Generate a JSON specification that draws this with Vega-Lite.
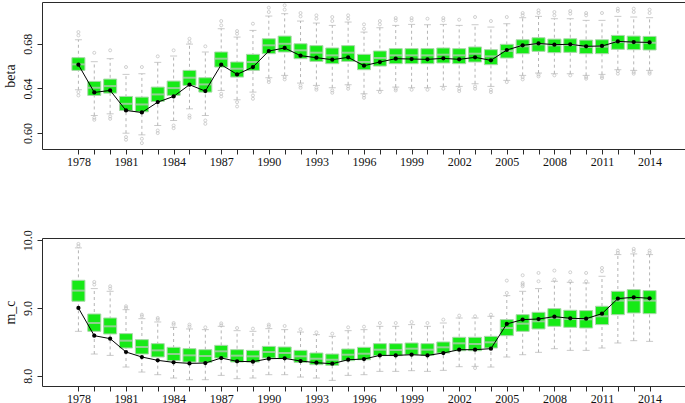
{
  "$schema": "https://vega.github.io/schema/vega-lite/v6.json",
  "padding": {"left": 2, "top": 1, "right": 0, "bottom": 0},
  "background": "white",
  "spacing": 89,
  "bounds": "flush",
  "datasets": {
    "beta": [
      {"year":1978,"lo":0.6388,"q1":0.6562,"med":0.6616,"q3":0.6676,"hi":0.6837,"est":0.6613},
      {"year":1979,"lo":0.6157,"q1":0.6337,"med":0.6406,"q3":0.6463,"hi":0.664,"est":0.6364},
      {"year":1980,"lo":0.6172,"q1":0.6358,"med":0.6421,"q3":0.6484,"hi":0.6667,"est":0.6382},
      {"year":1981,"lo":0.5998,"q1":0.6202,"med":0.6262,"q3":0.6328,"hi":0.6526,"est":0.6202},
      {"year":1982,"lo":0.5983,"q1":0.619,"med":0.6256,"q3":0.6322,"hi":0.6532,"est":0.6184},
      {"year":1983,"lo":0.6067,"q1":0.6283,"med":0.6346,"q3":0.6412,"hi":0.6634,"est":0.6277},
      {"year":1984,"lo":0.6112,"q1":0.6337,"med":0.6403,"q3":0.6466,"hi":0.6691,"est":0.6328},
      {"year":1985,"lo":0.6217,"q1":0.6427,"med":0.6496,"q3":0.6562,"hi":0.6798,"est":0.6433},
      {"year":1986,"lo":0.6157,"q1":0.6367,"med":0.6436,"q3":0.6496,"hi":0.6727,"est":0.6376},
      {"year":1987,"lo":0.6382,"q1":0.6592,"med":0.6667,"q3":0.6727,"hi":0.6936,"est":0.6613},
      {"year":1988,"lo":0.6298,"q1":0.6502,"med":0.6577,"q3":0.6637,"hi":0.6861,"est":0.6526},
      {"year":1989,"lo":0.6367,"q1":0.6562,"med":0.6637,"q3":0.6706,"hi":0.6921,"est":0.6592},
      {"year":1990,"lo":0.6496,"q1":0.6712,"med":0.6787,"q3":0.6846,"hi":0.705,"est":0.6736},
      {"year":1991,"lo":0.6517,"q1":0.6727,"med":0.6801,"q3":0.687,"hi":0.7071,"est":0.6763},
      {"year":1992,"lo":0.6448,"q1":0.6667,"med":0.6742,"q3":0.6801,"hi":0.7005,"est":0.6694},
      {"year":1993,"lo":0.6427,"q1":0.6643,"med":0.6721,"q3":0.6784,"hi":0.6987,"est":0.6676},
      {"year":1994,"lo":0.6406,"q1":0.6622,"med":0.6697,"q3":0.6763,"hi":0.6966,"est":0.6658},
      {"year":1995,"lo":0.6433,"q1":0.6643,"med":0.6721,"q3":0.6784,"hi":0.6996,"est":0.6679},
      {"year":1996,"lo":0.6352,"q1":0.6568,"med":0.6637,"q3":0.6706,"hi":0.6906,"est":0.6604},
      {"year":1997,"lo":0.6382,"q1":0.6601,"med":0.6673,"q3":0.6736,"hi":0.6945,"est":0.6637},
      {"year":1998,"lo":0.6412,"q1":0.6622,"med":0.6697,"q3":0.6757,"hi":0.6966,"est":0.6667},
      {"year":1999,"lo":0.6406,"q1":0.6622,"med":0.6697,"q3":0.6757,"hi":0.6975,"est":0.6664},
      {"year":2000,"lo":0.6406,"q1":0.6622,"med":0.6697,"q3":0.6757,"hi":0.6972,"est":0.6661},
      {"year":2001,"lo":0.6418,"q1":0.6628,"med":0.6703,"q3":0.6763,"hi":0.6975,"est":0.667},
      {"year":2002,"lo":0.6418,"q1":0.6622,"med":0.6697,"q3":0.6757,"hi":0.6966,"est":0.6661},
      {"year":2003,"lo":0.6442,"q1":0.6637,"med":0.6712,"q3":0.6772,"hi":0.6972,"est":0.6679},
      {"year":2004,"lo":0.6418,"q1":0.6613,"med":0.6688,"q3":0.6748,"hi":0.6951,"est":0.6652},
      {"year":2005,"lo":0.6472,"q1":0.6673,"med":0.6736,"q3":0.6796,"hi":0.6981,"est":0.6745},
      {"year":2006,"lo":0.6517,"q1":0.6712,"med":0.6778,"q3":0.6837,"hi":0.7035,"est":0.6787},
      {"year":2007,"lo":0.6538,"q1":0.6733,"med":0.6796,"q3":0.6855,"hi":0.7047,"est":0.6804},
      {"year":2008,"lo":0.6532,"q1":0.6721,"med":0.6787,"q3":0.6843,"hi":0.7026,"est":0.6793},
      {"year":2009,"lo":0.6532,"q1":0.6724,"med":0.679,"q3":0.6846,"hi":0.7026,"est":0.6796},
      {"year":2010,"lo":0.6517,"q1":0.6712,"med":0.6772,"q3":0.6834,"hi":0.7011,"est":0.6778},
      {"year":2011,"lo":0.6526,"q1":0.6712,"med":0.6775,"q3":0.6837,"hi":0.7011,"est":0.6781},
      {"year":2012,"lo":0.6568,"q1":0.6751,"med":0.6816,"q3":0.6876,"hi":0.7047,"est":0.6822},
      {"year":2013,"lo":0.6562,"q1":0.6748,"med":0.681,"q3":0.687,"hi":0.7041,"est":0.6816},
      {"year":2014,"lo":0.6562,"q1":0.6745,"med":0.681,"q3":0.6867,"hi":0.7035,"est":0.6813}
    ],
    "mc": [
      {"year":1978,"lo":8.655,"q1":9.099,"med":9.256,"q3":9.409,"hi":9.887,"est":9.0},
      {"year":1979,"lo":8.32,"q1":8.655,"med":8.778,"q3":8.911,"hi":9.286,"est":8.591},
      {"year":1980,"lo":8.3,"q1":8.616,"med":8.729,"q3":8.852,"hi":9.246,"est":8.547},
      {"year":1981,"lo":8.128,"q1":8.409,"med":8.517,"q3":8.621,"hi":8.975,"est":8.35},
      {"year":1982,"lo":8.054,"q1":8.32,"med":8.424,"q3":8.532,"hi":8.842,"est":8.276},
      {"year":1983,"lo":8.015,"q1":8.276,"med":8.374,"q3":8.473,"hi":8.793,"est":8.227},
      {"year":1984,"lo":7.966,"q1":8.222,"med":8.32,"q3":8.419,"hi":8.714,"est":8.197},
      {"year":1985,"lo":7.941,"q1":8.202,"med":8.3,"q3":8.399,"hi":8.69,"est":8.182},
      {"year":1986,"lo":7.941,"q1":8.197,"med":8.291,"q3":8.384,"hi":8.68,"est":8.187},
      {"year":1987,"lo":8.005,"q1":8.261,"med":8.36,"q3":8.448,"hi":8.729,"est":8.261},
      {"year":1988,"lo":7.956,"q1":8.202,"med":8.296,"q3":8.384,"hi":8.665,"est":8.212},
      {"year":1989,"lo":7.966,"q1":8.202,"med":8.286,"q3":8.374,"hi":8.655,"est":8.207},
      {"year":1990,"lo":8.015,"q1":8.261,"med":8.35,"q3":8.433,"hi":8.695,"est":8.251},
      {"year":1991,"lo":8.015,"q1":8.251,"med":8.335,"q3":8.424,"hi":8.68,"est":8.256},
      {"year":1992,"lo":7.98,"q1":8.197,"med":8.286,"q3":8.374,"hi":8.645,"est":8.217},
      {"year":1993,"lo":7.966,"q1":8.163,"med":8.251,"q3":8.335,"hi":8.606,"est":8.192},
      {"year":1994,"lo":7.931,"q1":8.153,"med":8.236,"q3":8.32,"hi":8.581,"est":8.177},
      {"year":1995,"lo":8.005,"q1":8.222,"med":8.31,"q3":8.394,"hi":8.665,"est":8.236},
      {"year":1996,"lo":8.015,"q1":8.236,"med":8.325,"q3":8.419,"hi":8.68,"est":8.246},
      {"year":1997,"lo":8.064,"q1":8.296,"med":8.384,"q3":8.473,"hi":8.729,"est":8.3},
      {"year":1998,"lo":8.064,"q1":8.296,"med":8.379,"q3":8.473,"hi":8.729,"est":8.3},
      {"year":1999,"lo":8.074,"q1":8.31,"med":8.399,"q3":8.483,"hi":8.754,"est":8.31},
      {"year":2000,"lo":8.064,"q1":8.3,"med":8.384,"q3":8.473,"hi":8.729,"est":8.3},
      {"year":2001,"lo":8.079,"q1":8.335,"med":8.419,"q3":8.498,"hi":8.778,"est":8.335},
      {"year":2002,"lo":8.133,"q1":8.369,"med":8.478,"q3":8.567,"hi":8.852,"est":8.384},
      {"year":2003,"lo":8.138,"q1":8.369,"med":8.468,"q3":8.567,"hi":8.852,"est":8.384},
      {"year":2004,"lo":8.128,"q1":8.409,"med":8.493,"q3":8.581,"hi":8.877,"est":8.399},
      {"year":2005,"lo":8.276,"q1":8.591,"med":8.704,"q3":8.828,"hi":9.182,"est":8.764},
      {"year":2006,"lo":8.31,"q1":8.655,"med":8.768,"q3":8.901,"hi":9.246,"est":8.828},
      {"year":2007,"lo":8.345,"q1":8.69,"med":8.803,"q3":8.936,"hi":9.286,"est":8.837},
      {"year":2008,"lo":8.399,"q1":8.729,"med":8.852,"q3":8.99,"hi":9.394,"est":8.872},
      {"year":2009,"lo":8.374,"q1":8.714,"med":8.837,"q3":8.966,"hi":9.379,"est":8.847},
      {"year":2010,"lo":8.374,"q1":8.704,"med":8.833,"q3":8.961,"hi":9.369,"est":8.842},
      {"year":2011,"lo":8.409,"q1":8.754,"med":8.877,"q3":9.025,"hi":9.468,"est":8.916},
      {"year":2012,"lo":8.483,"q1":8.901,"med":9.108,"q3":9.246,"hi":9.788,"est":9.138},
      {"year":2013,"lo":8.517,"q1":8.926,"med":9.113,"q3":9.271,"hi":9.798,"est":9.158},
      {"year":2014,"lo":8.507,"q1":8.916,"med":9.108,"q3":9.256,"hi":9.788,"est":9.143}
    ],
    "beta_out": [
      {"year":1978,"v":0.6906},{"year":1978,"v":0.6876},{"year":1978,"v":0.6367},{"year":1978,"v":0.6337},
      {"year":1979,"v":0.672},{"year":1979,"v":0.6136},{"year":1979,"v":0.6118},
      {"year":1980,"v":0.6742},{"year":1980,"v":0.6148},{"year":1980,"v":0.6127},
      {"year":1981,"v":0.6592},{"year":1981,"v":0.5963},{"year":1981,"v":0.5939},
      {"year":1982,"v":0.6592},{"year":1982,"v":0.5948},{"year":1982,"v":0.5909},
      {"year":1983,"v":0.6688},{"year":1983,"v":0.6022},{"year":1983,"v":0.5999},
      {"year":1984,"v":0.6742},{"year":1984,"v":0.6067},{"year":1984,"v":0.6043},
      {"year":1985,"v":0.6846},{"year":1985,"v":0.6816},{"year":1985,"v":0.6157},{"year":1985,"v":0.6136},
      {"year":1986,"v":0.6778},{"year":1986,"v":0.6112},{"year":1986,"v":0.6082},
      {"year":1987,"v":0.7005},{"year":1987,"v":0.6966},{"year":1987,"v":0.6352},{"year":1987,"v":0.6328},
      {"year":1988,"v":0.6915},{"year":1988,"v":0.6891},{"year":1988,"v":0.6277},{"year":1988,"v":0.6238},
      {"year":1989,"v":0.6981},{"year":1989,"v":0.6337},{"year":1989,"v":0.6307},
      {"year":1990,"v":0.7125},{"year":1990,"v":0.7086},{"year":1990,"v":0.6478},{"year":1990,"v":0.6457},
      {"year":1991,"v":0.7146},{"year":1991,"v":0.7107},{"year":1991,"v":0.6502},{"year":1991,"v":0.6481},
      {"year":1992,"v":0.7077},{"year":1992,"v":0.7047},{"year":1992,"v":0.6427},{"year":1992,"v":0.6406},
      {"year":1993,"v":0.7056},{"year":1993,"v":0.7026},{"year":1993,"v":0.6406},{"year":1993,"v":0.6388},
      {"year":1994,"v":0.7041},{"year":1994,"v":0.7005},{"year":1994,"v":0.6382},{"year":1994,"v":0.6361},
      {"year":1995,"v":0.7056},{"year":1995,"v":0.7026},{"year":1995,"v":0.6418},{"year":1995,"v":0.6397},
      {"year":1996,"v":0.6975},{"year":1996,"v":0.6936},{"year":1996,"v":0.6337},{"year":1996,"v":0.6316},
      {"year":1997,"v":0.7005},{"year":1997,"v":0.6975},{"year":1997,"v":0.6367},
      {"year":1998,"v":0.7032},{"year":1998,"v":0.7011},{"year":1998,"v":0.6397},{"year":1998,"v":0.6382},
      {"year":1999,"v":0.7032},{"year":1999,"v":0.7011},{"year":1999,"v":0.6388},
      {"year":2000,"v":0.7026},{"year":2000,"v":0.6388},
      {"year":2001,"v":0.7032},{"year":2001,"v":0.7011},{"year":2001,"v":0.6397},
      {"year":2002,"v":0.7017},{"year":2002,"v":0.6397},{"year":2002,"v":0.6376},
      {"year":2003,"v":0.7041},{"year":2003,"v":0.6418},{"year":2003,"v":0.6397},
      {"year":2004,"v":0.7005},{"year":2004,"v":0.6388},{"year":2004,"v":0.6367},
      {"year":2005,"v":0.7041},{"year":2005,"v":0.6457},
      {"year":2006,"v":0.7077},{"year":2006,"v":0.7056},{"year":2006,"v":0.6502},{"year":2006,"v":0.6481},
      {"year":2007,"v":0.7101},{"year":2007,"v":0.7077},{"year":2007,"v":0.6526},{"year":2007,"v":0.6508},
      {"year":2008,"v":0.7086},{"year":2008,"v":0.7056},{"year":2008,"v":0.6517},
      {"year":2009,"v":0.7095},{"year":2009,"v":0.7071},{"year":2009,"v":0.6517},
      {"year":2010,"v":0.7077},{"year":2010,"v":0.7056},{"year":2010,"v":0.6502},{"year":2010,"v":0.6487},
      {"year":2011,"v":0.7077},{"year":2011,"v":0.6508},{"year":2011,"v":0.6493},
      {"year":2012,"v":0.7116},{"year":2012,"v":0.7095},{"year":2012,"v":0.6556},{"year":2012,"v":0.6532},
      {"year":2013,"v":0.7116},{"year":2013,"v":0.7086},{"year":2013,"v":0.6547},{"year":2013,"v":0.6532},
      {"year":2014,"v":0.7107},{"year":2014,"v":0.7077},{"year":2014,"v":0.6547},{"year":2014,"v":0.6532}
    ],
    "mc_out": [
      {"year":1978,"v":9.946},{"year":1978,"v":9.911},
      {"year":1979,"v":9.384},{"year":1979,"v":9.345},
      {"year":1980,"v":9.32},{"year":1980,"v":9.286},
      {"year":1981,"v":9.025},{"year":1981,"v":9.0},
      {"year":1982,"v":8.901},{"year":1982,"v":8.877},
      {"year":1983,"v":8.852},{"year":1983,"v":8.828},
      {"year":1984,"v":8.778},{"year":1984,"v":8.754},
      {"year":1985,"v":8.754},{"year":1985,"v":8.724},
      {"year":1986,"v":8.714},
      {"year":1987,"v":8.773},{"year":1987,"v":8.744},
      {"year":1988,"v":8.704},
      {"year":1989,"v":8.695},
      {"year":1990,"v":8.754},{"year":1990,"v":8.729},
      {"year":1991,"v":8.734},
      {"year":1992,"v":8.685},
      {"year":1993,"v":8.64},
      {"year":1994,"v":8.621},
      {"year":1995,"v":8.714},
      {"year":1996,"v":8.724},
      {"year":1997,"v":8.778},
      {"year":1998,"v":8.778},
      {"year":1999,"v":8.793},
      {"year":2000,"v":8.778},
      {"year":2001,"v":8.828},
      {"year":2002,"v":8.887},
      {"year":2003,"v":8.877},{"year":2003,"v":8.113},
      {"year":2004,"v":8.901},
      {"year":2005,"v":9.222},{"year":2005,"v":9.404},
      {"year":2006,"v":9.369},{"year":2006,"v":9.345},{"year":2006,"v":9.32},{"year":2006,"v":9.483},
      {"year":2007,"v":9.394},{"year":2007,"v":9.517},
      {"year":2008,"v":9.419},{"year":2008,"v":9.552},
      {"year":2009,"v":9.394},{"year":2009,"v":9.527},
      {"year":2010,"v":9.394},{"year":2010,"v":9.517},
      {"year":2011,"v":9.542},{"year":2011,"v":9.591},
      {"year":2012,"v":9.847},{"year":2012,"v":9.813},
      {"year":2013,"v":9.872},{"year":2013,"v":9.837},
      {"year":2014,"v":9.847},{"year":2014,"v":9.813}
    ]
  },
  "vconcat": [
    {
      "width": 644,
      "height": 147,
      "encoding": {
        "x": {
          "field": "year", "type": "quantitative", "title": null,
          "scale": {"domain": [1976.02, 2015.98], "nice": false, "zero": false},
          "axis": {
            "values": [1978,1979,1980,1981,1982,1983,1984,1985,1986,1987,1988,1989,1990,1991,1992,1993,1994,1995,1996,1997,1998,1999,2000,2001,2002,2003,2004,2005,2006,2007,2008,2009,2010,2011,2012,2013,2014],
            "format": "d",
            "labelExpr": "(datum.value - 1978) % 3 == 0 ? datum.label : ''"
          }
        }
      },
      "layer": [
        {
          "data": {"name": "beta"},
          "mark": {"type": "rule", "color": "#b4b4b4", "strokeDash": [3, 3], "strokeWidth": 1},
          "encoding": {
            "y": {
              "field": "lo", "type": "quantitative", "title": "beta",
              "scale": {"domain": [0.5856, 0.7176], "nice": false, "zero": false},
              "axis": {
                "values": [0.60, 0.62, 0.64, 0.66, 0.68, 0.70],
                "format": ".2f",
                "labelExpr": "indexof(['0.60','0.64','0.68'], datum.label) >= 0 ? datum.label : ''"
              }
            },
            "y2": {"field": "hi"}
          }
        },
        {
          "data": {"name": "beta"},
          "mark": {"type": "tick", "orient": "horizontal", "color": "#b4b4b4", "size": 7, "thickness": 1},
          "encoding": {"y": {"field": "hi", "type": "quantitative", "title": "beta"}}
        },
        {
          "data": {"name": "beta"},
          "mark": {"type": "tick", "orient": "horizontal", "color": "#b4b4b4", "size": 7, "thickness": 1},
          "encoding": {"y": {"field": "lo", "type": "quantitative", "title": "beta"}}
        },
        {
          "data": {"name": "beta_out"},
          "mark": {"type": "point", "shape": "circle", "filled": false, "color": "#bdbdbd", "size": 9, "strokeWidth": 1},
          "encoding": {"y": {"field": "v", "type": "quantitative", "title": "beta"}}
        },
        {
          "data": {"name": "beta"},
          "mark": {"type": "bar", "width": 13, "fill": "#16ea16", "stroke": "#a8d8a8", "strokeWidth": 1},
          "encoding": {"y": {"field": "q1", "type": "quantitative", "title": "beta"}, "y2": {"field": "q3"}}
        },
        {
          "data": {"name": "beta"},
          "mark": {"type": "tick", "orient": "horizontal", "color": "#c4c4c4", "size": 13, "thickness": 2},
          "encoding": {"y": {"field": "med", "type": "quantitative", "title": "beta"}}
        },
        {
          "data": {"name": "beta"},
          "mark": {"type": "line", "color": "#000000", "strokeWidth": 1, "point": {"filled": true, "color": "#000000", "size": 18}},
          "encoding": {"y": {"field": "est", "type": "quantitative", "title": "beta"}}
        }
      ]
    },
    {
      "width": 644,
      "height": 148,
      "encoding": {
        "x": {
          "field": "year", "type": "quantitative", "title": null,
          "scale": {"domain": [1976.02, 2015.98], "nice": false, "zero": false},
          "axis": {
            "values": [1978,1979,1980,1981,1982,1983,1984,1985,1986,1987,1988,1989,1990,1991,1992,1993,1994,1995,1996,1997,1998,1999,2000,2001,2002,2003,2004,2005,2006,2007,2008,2009,2010,2011,2012,2013,2014],
            "format": "d",
            "labelExpr": "(datum.value - 1978) % 3 == 0 ? datum.label : ''"
          }
        }
      },
      "layer": [
        {
          "data": {"name": "mc"},
          "mark": {"type": "rule", "color": "#b4b4b4", "strokeDash": [3, 3], "strokeWidth": 1},
          "encoding": {
            "y": {
              "field": "lo", "type": "quantitative", "title": "m_c",
              "scale": {"domain": [7.848, 10.033], "nice": false, "zero": false},
              "axis": {
                "values": [8.0, 8.5, 9.0, 9.5, 10.0],
                "format": ".1f"
              }
            },
            "y2": {"field": "hi"}
          }
        },
        {
          "data": {"name": "mc"},
          "mark": {"type": "tick", "orient": "horizontal", "color": "#b4b4b4", "size": 7, "thickness": 1},
          "encoding": {"y": {"field": "hi", "type": "quantitative", "title": "m_c"}}
        },
        {
          "data": {"name": "mc"},
          "mark": {"type": "tick", "orient": "horizontal", "color": "#b4b4b4", "size": 7, "thickness": 1},
          "encoding": {"y": {"field": "lo", "type": "quantitative", "title": "m_c"}}
        },
        {
          "data": {"name": "mc_out"},
          "mark": {"type": "point", "shape": "circle", "filled": false, "color": "#bdbdbd", "size": 9, "strokeWidth": 1},
          "encoding": {"y": {"field": "v", "type": "quantitative", "title": "m_c"}}
        },
        {
          "data": {"name": "mc"},
          "mark": {"type": "bar", "width": 13, "fill": "#16ea16", "stroke": "#a8d8a8", "strokeWidth": 1},
          "encoding": {"y": {"field": "q1", "type": "quantitative", "title": "m_c"}, "y2": {"field": "q3"}}
        },
        {
          "data": {"name": "mc"},
          "mark": {"type": "tick", "orient": "horizontal", "color": "#c4c4c4", "size": 13, "thickness": 2},
          "encoding": {"y": {"field": "med", "type": "quantitative", "title": "m_c"}}
        },
        {
          "data": {"name": "mc"},
          "mark": {"type": "line", "color": "#000000", "strokeWidth": 1, "point": {"filled": true, "color": "#000000", "size": 18}},
          "encoding": {"y": {"field": "est", "type": "quantitative", "title": "m_c"}}
        }
      ]
    }
  ],
  "config": {
    "view": {"stroke": "#2a2a2a", "strokeWidth": 1},
    "axis": {
      "domain": false,
      "grid": false,
      "tickColor": "#2a2a2a",
      "tickSize": 5,
      "labelFont": "Liberation Serif",
      "labelFontSize": 12,
      "labelColor": "#111111",
      "titleFont": "Liberation Serif",
      "titleFontSize": 14,
      "titleFontWeight": "normal",
      "titleColor": "#111111"
    },
    "axisX": {"labelPadding": 2, "labelFlush": false, "labelOverlap": false},
    "axisY": {"labelAngle": -90, "labelAlign": "center", "labelBaseline": "bottom", "labelPadding": 3, "titlePadding": 4, "labelOverlap": false}
  }
}
